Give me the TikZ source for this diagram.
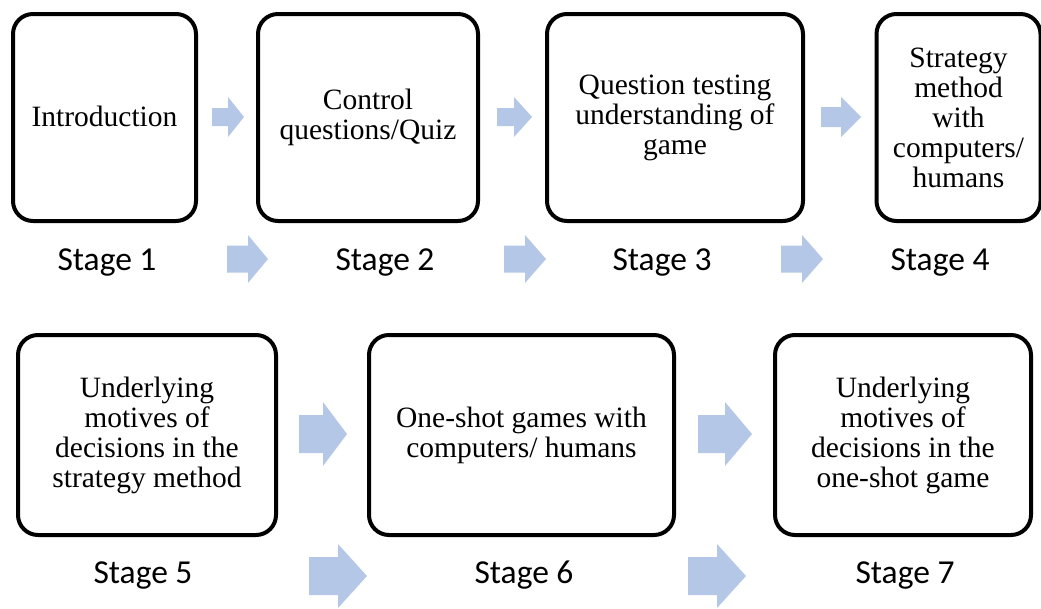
\documentclass[tikz,border=0pt]{standalone}
\usepackage{fontspec}
\setmainfont{Liberation Serif}
\newfontfamily\stagefont{Carlito}
\definecolor{arrowblue}{RGB}{180,199,231}
\newcommand\blockarrow[6]{%
  \fill[arrowfill] ({#1},{#4-#5/2}) -- ({#2},{#4-#5/2}) -- ({#2},{#4-#6/2}) -- ({#3},{#4})
    -- ({#2},{#4+#6/2}) -- ({#2},{#4+#5/2}) -- ({#1},{#4+#5/2}) -- cycle;}
\tikzset{
  stagebox/.style={draw=black, line width=4pt, rounded corners=20pt, align=center,
    inner sep=0pt, font=\fontsize{29.5}{30}\selectfont},
  stagelabel/.style={anchor=base, inner sep=0pt, font=\stagefont\fontsize{33.5}{36}\selectfont},
  arrowfill/.style={fill=arrowblue},
}
\begin{document}
\begin{tikzpicture}[x=1pt,y=-1pt]
\useasboundingbox (0,0) rectangle (1041,608);
% row 1 boxes
\node[stagebox, minimum width=183pt, minimum height=207pt] (b1) at (104.5,117.5) {\raisebox{2pt}{Introduction}};
\node[stagebox, minimum width=220pt, minimum height=207pt] (b2) at (368,117.5) {Control\\questions/Quiz};
\node[stagebox, minimum width=256pt, minimum height=207pt] (b3) at (675,117.5) {Question testing\\understanding of\\game};
\node[stagebox, minimum width=164pt, minimum height=207pt] (b4) at (958.5,117.5) {Strategy\\method\\with\\computers/\\humans};
% row 2 boxes
\node[stagebox, minimum width=258pt, minimum height=200pt] (b5) at (147,435) {Underlying\\motives of\\decisions in the\\strategy method};
\node[stagebox, minimum width=305pt, minimum height=200pt] (b6) at (521.5,435) {One-shot games with\\computers/ humans};
\node[stagebox, minimum width=256pt, minimum height=200pt] (b7) at (903,435) {Underlying\\motives of\\decisions in the\\one-shot game};
% stage labels
\node[stagelabel] (s1) at (107,270) {Stage 1};
\node[stagelabel] (s2) at (385,270) {Stage 2};
\node[stagelabel] (s3) at (662,270) {Stage 3};
\node[stagelabel] (s4) at (940,270) {Stage 4};
\node[stagelabel] (s5) at (143,583) {Stage 5};
\node[stagelabel] (s6) at (524,583) {Stage 6};
\node[stagelabel] (s7) at (905,583) {Stage 7};
% block arrows, row 1
\blockarrow{212}{228}{244}{117}{18}{40}
\blockarrow{497}{514}{532}{117}{18}{40}
\blockarrow{821}{841}{861}{117}{20}{40}
\blockarrow{227}{248}{268}{259}{27}{48}
\blockarrow{504}{525}{546}{259}{27}{48}
\blockarrow{781}{802}{823}{259}{27}{48}
% block arrows, row 2
\blockarrow{299}{323}{347}{434}{38}{64}
\blockarrow{698}{725}{752}{434}{38}{64}
\blockarrow{309}{338}{367}{576}{38}{64}
\blockarrow{688}{717}{746}{576}{38}{64}
\end{tikzpicture}
\end{document}
